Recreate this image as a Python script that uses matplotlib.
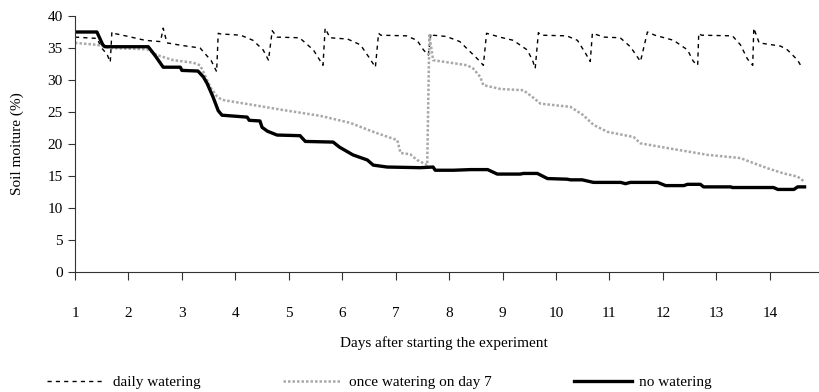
import matplotlib
matplotlib.use("Agg")
import matplotlib.pyplot as plt

plt.rcParams['font.family'] = ['Liberation Serif', 'DejaVu Serif']
plt.rcParams['font.size'] = 11

# daily watering
daily_days = [1.0, 1.41, 1.5, 1.6, 1.66, 1.69, 1.72, 2.0, 2.31, 2.6, 2.65, 2.72, 3.0, 3.34,
              3.55, 3.65, 3.68, 3.72, 4.1, 4.33, 4.52, 4.62, 4.69, 4.78, 5.2, 5.46, 5.64,
              5.68, 5.77, 6.1, 6.34, 6.52, 6.62, 6.68, 6.72, 7.2, 7.4, 7.52, 7.61, 7.66,
              7.7, 7.95, 8.2, 8.53, 8.64, 8.7, 8.95, 9.2, 9.46, 9.56, 9.61, 9.67, 9.72,
              10.2, 10.4, 10.55, 10.64, 10.68, 10.9, 11.2, 11.39, 11.58, 11.71, 11.85,
              12.2, 12.46, 12.57, 12.65, 12.67, 12.72, 13.3, 13.45, 13.58, 13.68, 13.7,
              13.8, 14.2, 14.33, 14.52, 14.61]
daily_vals = [36.7, 36.5, 35.0, 34.0, 32.8, 37.5, 37.3, 36.8, 36.2, 36.0, 38.1, 35.8, 35.4, 35.0,
              33.0, 31.3, 37.3, 37.2, 37.0, 36.2, 34.7, 33.1, 37.7, 36.7, 36.6, 34.7, 32.3,
              38.1, 36.6, 36.4, 35.5, 33.3, 32.0, 37.3, 37.0, 36.9, 36.2, 34.7, 33.9, 37.3,
              37.0, 36.8, 36.0, 33.3, 32.3, 37.3, 36.7, 36.2, 34.7, 33.1, 31.8, 37.4, 37.0,
              36.9, 36.2, 34.2, 32.9, 37.3, 36.7, 36.6, 35.2, 32.9, 37.5, 37.0,
              36.2, 34.7, 32.9, 32.3, 37.3, 37.0, 36.9, 35.5, 33.3, 32.3, 38.1,
              35.8, 35.3, 34.7, 33.1, 31.8]

# once watering on day 7
once_days = [1.0, 1.41, 1.66, 2.35, 2.53, 2.84, 3.21, 3.34, 3.4, 3.53, 3.66, 3.75, 4.33, 4.9,
             5.59, 6.15, 6.58, 7.03, 7.09, 7.27, 7.4, 7.59, 7.63, 7.7, 8.34, 8.45, 8.58, 8.64,
             8.96, 9.39, 9.58, 9.71, 10.27, 10.51, 10.7, 10.96, 11.45, 11.58, 12.27, 12.84,
             13.45, 13.7, 13.96, 14.26, 14.52, 14.65]
once_vals = [35.8, 35.5, 35.0, 34.8, 33.9, 33.1, 32.7, 32.3, 31.3, 28.9, 27.4, 26.9, 26.1, 25.3,
             24.4, 23.3, 21.9, 20.6, 18.6, 18.4, 17.5, 16.7, 37.0, 33.1, 32.3, 31.8, 30.5, 29.2,
             28.6, 28.4, 27.2, 26.3, 25.8, 24.5, 23.0, 21.9, 21.1, 20.1, 19.1, 18.3,
             17.8, 17.0, 16.2, 15.4, 14.9, 14.1]

# no watering
none_days = [1.0, 1.41, 1.52, 1.56, 2.37, 2.5, 2.65, 2.97, 3.0, 3.3, 3.4, 3.47, 3.58, 3.68,
             3.75, 4.22, 4.26, 4.46, 4.5, 4.55, 4.6, 4.78, 5.21, 5.31, 5.83, 5.95, 6.2, 6.47,
             6.58, 6.84, 7.46, 7.7, 7.74, 8.08, 8.4, 8.72, 8.9, 9.33, 9.39, 9.65, 9.84, 10.21,
             10.27, 10.49, 10.7, 11.21, 11.3, 11.39, 11.9, 12.05, 12.39, 12.46, 12.7, 12.76,
             13.27, 13.3, 14.07, 14.15, 14.45, 14.52, 14.65]
none_vals = [37.5, 37.5, 35.5, 35.2, 35.2, 33.8, 32.0, 32.0, 31.5, 31.4, 30.5, 29.5, 27.4, 25.2,
             24.5, 24.2, 23.7, 23.6, 22.6, 22.3, 22.0, 21.4, 21.3, 20.4, 20.3, 19.5, 18.3, 17.5,
             16.7, 16.4, 16.3, 16.4, 15.9, 15.9, 16.0, 16.0, 15.3, 15.3, 15.4, 15.4, 14.6, 14.5,
             14.4, 14.4, 14.0, 14.0, 13.8, 14.0, 14.0, 13.5, 13.5, 13.7, 13.7, 13.3,
             13.3, 13.2, 13.2, 12.9, 12.9, 13.3, 13.3]

x_ticks = list(range(1, 15))
y_ticks = list(range(0, 41, 5))

fig = plt.figure(figsize=(8.19, 3.92), dpi=100)
ax = fig.add_axes([75 / 819, 1 - 272 / 392, 744 / 819, 256 / 392])

ax.plot(daily_days, daily_vals, color='black', lw=1.0, linestyle=(0, (3, 3)),
        label='daily watering')
ax.plot(once_days, once_vals, color='#a8a8a8', lw=1.8, linestyle=(0, (1, 0.8)),
        label='once watering on day 7')
ax.plot(none_days, none_vals, color='black', lw=2.4, label='no watering')

ax.set_xlim(1, 14.92)
ax.set_ylim(0, 40)
ax.set_xticks(x_ticks)
ax.set_yticks(y_ticks)
ax.spines['top'].set_visible(False)
ax.spines['right'].set_visible(False)
for s in ['left', 'bottom']:
    ax.spines[s].set_color('#333333')
ax.tick_params(axis='x', direction='out', length=6, pad=19, colors='#333333',
               labelcolor='black')
ax.tick_params(axis='y', direction='out', length=5, pad=4, colors='#333333',
               labelcolor='black')

fig.text(444 / 819, 1 - 343 / 392, 'Days after starting the experiment',
         ha='center', va='center')
fig.text(17 / 819, 1 - 144 / 392, 'Soil moiture (%)', rotation=90,
         ha='center', va='center')

fig.legend(loc='center left', bbox_to_anchor=(47 / 819, 1 - 382 / 392), ncol=3,
           frameon=False, borderpad=0, borderaxespad=0, handlelength=3.8,
           handletextpad=0.5, columnspacing=5.4)

fig.savefig('out.png', dpi=100)
